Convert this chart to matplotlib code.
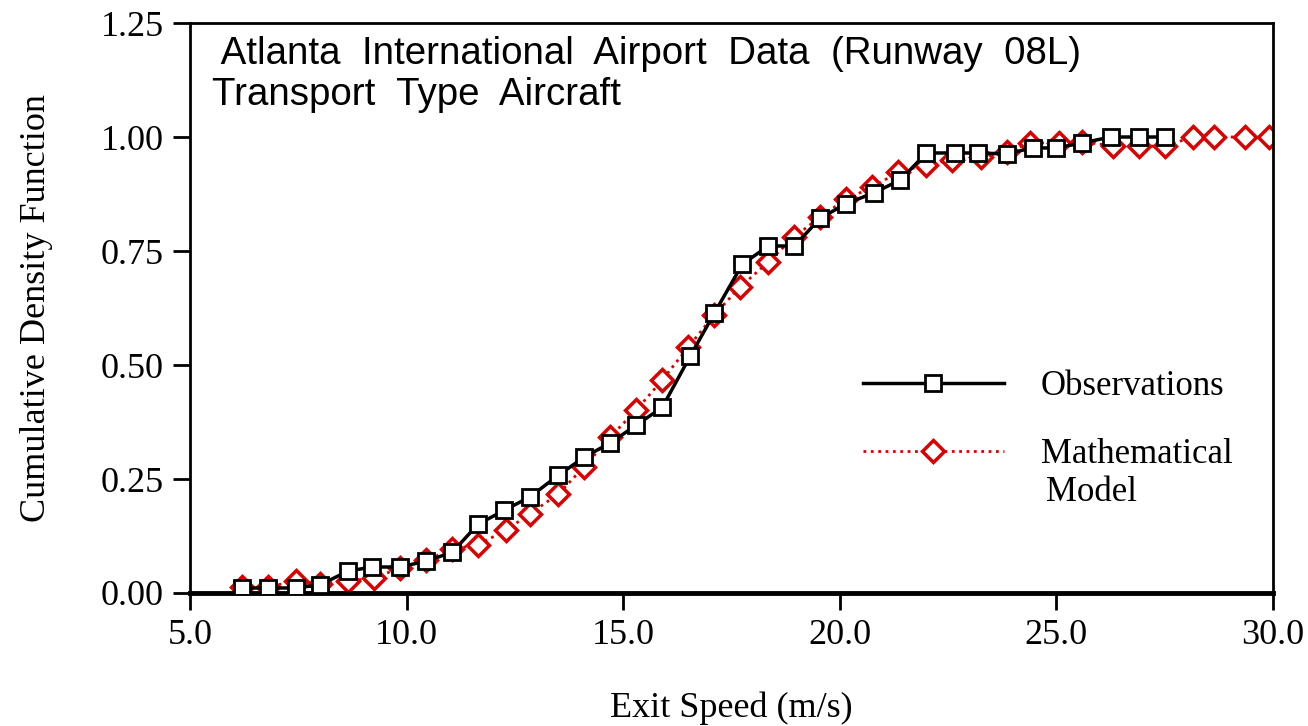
import matplotlib
matplotlib.use('Agg')
from matplotlib import pyplot as plt
from matplotlib.lines import Line2D

# observed exit speeds (m/s) and cumulative fraction
obs_speed = [6.2, 6.8, 7.45, 8.0, 8.65, 9.2, 9.85, 10.45, 11.05, 11.65, 12.25, 12.85,
             13.5, 14.1, 14.7, 15.3, 15.9, 16.55, 17.1, 17.75, 18.35, 18.95, 19.55, 20.15,
             20.8, 21.4, 22.0, 22.65, 23.2, 23.85, 24.45, 25.0, 25.6, 26.25, 26.9, 27.5]
obs_cdf = [0.011, 0.011, 0.011, 0.018, 0.048, 0.057, 0.057, 0.070, 0.089, 0.151, 0.181, 0.211,
           0.258, 0.298, 0.329, 0.368, 0.407, 0.520, 0.613, 0.721, 0.761, 0.761, 0.822, 0.854,
           0.878, 0.906, 0.965, 0.965, 0.965, 0.963, 0.976, 0.976, 0.987, 1.0, 1.0, 1.0]

# model values
mod_speed = [6.2, 6.8, 7.45, 8.0, 8.65, 9.25, 9.85, 10.45, 11.05, 11.65, 12.3, 12.85,
             13.5, 14.1, 14.7, 15.3, 15.9, 16.5, 17.1, 17.7, 18.35, 18.95, 19.55, 20.15,
             20.75, 21.35, 22.0, 22.6, 23.25, 23.85, 24.4, 25.05, 25.6, 26.3, 26.9, 27.5,
             28.15, 28.65, 29.35, 29.9]
mod_cdf = [0.013, 0.013, 0.027, 0.020, 0.026, 0.033, 0.055, 0.072, 0.096, 0.106, 0.138, 0.174,
           0.217, 0.277, 0.342, 0.401, 0.467, 0.539, 0.610, 0.671, 0.726, 0.781, 0.825, 0.864,
           0.890, 0.923, 0.939, 0.950, 0.956, 0.968, 0.987, 0.987, 0.990, 0.980, 0.980, 0.980,
           1.0, 1.0, 1.0, 1.0]

x_ticks = [5, 10, 15, 20, 25, 30]
y_ticks = [0.0, 0.25, 0.5, 0.75, 1.0, 1.25]

serif = ['Liberation Serif', 'DejaVu Serif']
sans = ['Liberation Sans', 'DejaVu Sans']
red = '#dd0000'

fig = plt.figure(figsize=(13.08, 7.26), dpi=100)
ax = fig.add_axes([0.1453, 0.1832, 0.8279, 0.7851])

ax.plot(mod_speed, mod_cdf, linestyle=':', color=red, lw=2.0,
        marker='D', ms=11.5, mfc='white', mec=red, mew=2.5, zorder=2)
ax.plot(obs_speed, obs_cdf, linestyle='-', color='black', lw=2.5,
        marker='s', ms=11, mfc='white', mec='black', mew=2.0, zorder=3)

ax.set_xlim(5, 30)
ax.set_ylim(0, 1.25)
ax.set_xticks(x_ticks)
ax.set_xticklabels(['%.1f' % v for v in x_ticks], family=serif, fontsize=26)
ax.set_yticks(y_ticks)
ax.set_yticklabels(['%.2f' % v for v in y_ticks], family=serif, fontsize=26)
ax.tick_params(direction='out', length=12, width=2, pad=7)

for side in ['left', 'right', 'top']:
    ax.spines[side].set_linewidth(2)
ax.spines['bottom'].set_linewidth(3.5)

ax.set_xlabel('Exit Speed (m/s)', family=serif, fontsize=26, labelpad=28)
ax.set_ylabel('Cumulative Density Function', family=serif, fontsize=26, labelpad=34)

gap = '  '
title = (' ' + gap.join(['Atlanta', 'International', 'Airport', 'Data', '(Runway', '08L)'])
         + '\n' + gap.join(['Transport', 'Type', 'Aircraft']))
ax.text(0.0203, 0.978, title, transform=ax.transAxes, ha='left', va='top',
        family=sans, fontsize=27.7, linespacing=1.2)

handles = [
    Line2D([], [], linestyle='-', color='black', lw=2.5, marker='s', ms=11,
           mfc='white', mec='black', mew=2.0),
    Line2D([], [], linestyle=':', color=red, lw=2.0, marker='D', ms=11.5,
           mfc='white', mec=red, mew=2.5),
]
leg = ax.legend(handles, ['Observations', 'Mathematical'], loc='upper left',
                bbox_to_anchor=(0.6212, 0.391), frameon=False,
                prop={'family': serif, 'size': 25}, handlelength=4.06,
                handletextpad=1.07, labelspacing=1.0, borderaxespad=0, borderpad=0)
ax.text(0.790, 0.176, 'Model', transform=ax.transAxes, family=serif, fontsize=25,
        ha='left', va='center')

plt.savefig('out.png', dpi=100)
